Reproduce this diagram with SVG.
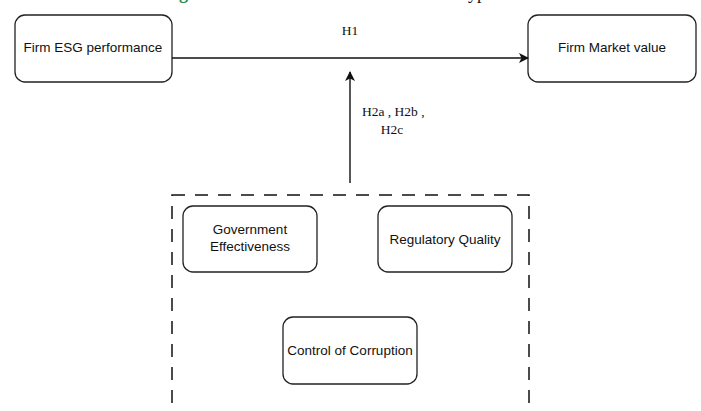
<svg xmlns="http://www.w3.org/2000/svg" width="701" height="411" viewBox="0 0 701 411">
<style>
.box{fill:#fff;stroke:#222;stroke-width:1.3}
.lbl{font-family:"Liberation Sans",Arial,sans-serif;font-size:13.5px;fill:#111;text-anchor:middle}
.hyp{font-family:"Liberation Serif","Times New Roman",serif;font-size:13.5px;fill:#111}
.edge{stroke:#111;stroke-width:1.4;fill:none}
</style>
<defs>
<marker id="arr" viewBox="0 0 10 10" refX="9" refY="5" markerWidth="10" markerHeight="10" markerUnits="userSpaceOnUse" orient="auto">
<path d="M0,0 L10,5 L0,10 L2.5,5 z" fill="#111"/>
</marker>
</defs>
<rect width="701" height="411" fill="#fff"/>
<g id="title">
<text x="163" y="-1" font-family="Liberation Serif,serif" font-weight="bold" font-size="18" fill="#1e8c45">Figure</text>
<text x="459" y="-1" font-family="Liberation Serif,serif" font-size="18" fill="#111">hypotheses</text>
</g>
<g id="group-governance">
<rect x="172" y="195" width="357" height="230" fill="none" stroke="#111" stroke-width="1.5" stroke-dasharray="13 10"/>
</g>
<g id="node-esg">
<rect class="box" x="15" y="15" width="157" height="67" rx="10"/>
<text class="lbl" x="93" y="52">Firm ESG performance</text>
</g>
<g id="node-market">
<rect class="box" x="528" y="15" width="168" height="67" rx="10"/>
<text class="lbl" x="612" y="52">Firm Market value</text>
</g>
<g id="node-gov">
<rect class="box" x="183" y="206" width="134" height="66" rx="10"/>
<text class="lbl" x="250" y="234">Government</text>
<text class="lbl" x="250" y="251">Effectiveness</text>
</g>
<g id="node-reg">
<rect class="box" x="378" y="206" width="134" height="66" rx="10"/>
<text class="lbl" x="445" y="244">Regulatory Quality</text>
</g>
<g id="node-corr">
<rect class="box" x="283" y="317" width="134" height="67" rx="10"/>
<text class="lbl" x="350" y="355">Control of Corruption</text>
</g>
<g id="connectors">
<line class="edge" x1="172" y1="58" x2="528" y2="58" marker-end="url(#arr)"/>
<line class="edge" x1="350" y1="183" x2="350" y2="72" marker-end="url(#arr)"/>
<text class="hyp" x="350" y="35" text-anchor="middle">H1</text>
<text class="hyp" x="362" y="116">H2a , H2b ,</text>
<text class="hyp" x="392" y="134" text-anchor="middle">H2c</text>
</g>
</svg>
